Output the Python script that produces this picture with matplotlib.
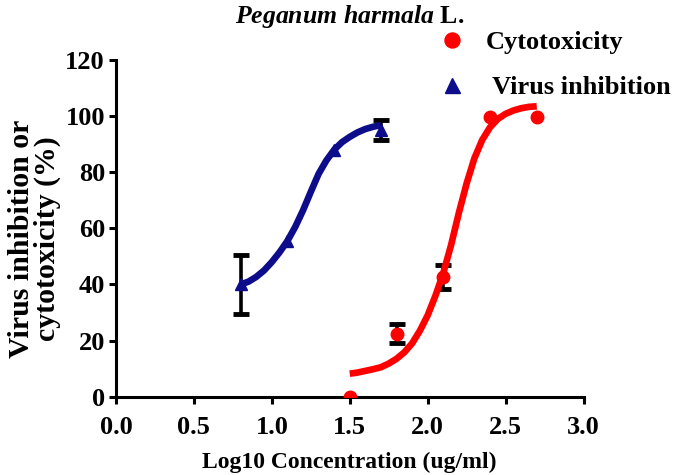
import numpy as np
import matplotlib
matplotlib.use('Agg')
import matplotlib.pyplot as plt

# measured points
virus_x = [0.8, 1.1, 1.4, 1.7]
virus_y = [40.0, 55.5, 88.0, 95.0]
virus_err = [10.4, 0.0, 0.0, 3.6]

cyto_x = [1.5, 1.8, 2.1, 2.4, 2.7]
cyto_y = [0.0, 22.5, 42.7, 99.8, 99.6]
cyto_err = [0.0, 3.3, 4.4, 0.0, 0.0]

# fitted curves
virus_fit_x = [0.8, 0.85, 0.9, 0.95, 1.0, 1.05, 1.1, 1.15, 1.2, 1.25,
               1.3, 1.35, 1.4, 1.45, 1.5, 1.55, 1.6, 1.65, 1.7]
virus_fit_y = [40.0, 41.0, 42.7, 45.0, 48.0, 51.5, 55.5, 60.5, 66.4, 73.0,
               79.4, 84.2, 88.0, 90.7, 92.6, 94.2, 95.4, 96.2, 96.8]

cyto_fit_x = [1.5, 1.55, 1.6, 1.65, 1.7, 1.75, 1.8, 1.85, 1.9, 1.95, 2.0,
              2.05, 2.1, 2.15, 2.2, 2.25, 2.3, 2.35, 2.4, 2.45, 2.5, 2.55,
              2.6, 2.65, 2.7]
cyto_fit_y = [8.2, 8.6, 9.2, 9.8, 10.5, 11.8, 13.5, 15.8, 19.0, 23.5, 29.0,
              36.0, 44.0, 54.0, 65.5, 76.0, 85.0, 91.5, 96.0, 99.0, 100.8, 102.0,
              102.8, 103.3, 103.5]

xticks = [0.0, 0.5, 1.0, 1.5, 2.0, 2.5, 3.0]
yticks = [0, 20, 40, 60, 80, 100, 120]

red = '#ff0000'
blue = '#0d0d8c'

plt.rcParams['font.family'] = 'Liberation Serif'
plt.rcParams['font.weight'] = 'bold'
plt.rcParams['mathtext.fontset'] = 'custom'
plt.rcParams['mathtext.it'] = 'Liberation Serif:italic:bold'
plt.rcParams['mathtext.rm'] = 'Liberation Serif:bold'

fig = plt.figure(figsize=(6.77, 4.75), dpi=100)
ax = fig.add_axes([116 / 677, 78.3 / 475, 467.5 / 677, 336.7 / 475])


def draw_err(xs, ys, errs):
    # only points that actually have an error bar
    xs, ys, errs = np.array(xs), np.array(ys), np.array(errs)
    m = errs > 0
    ax.errorbar(xs[m], ys[m], yerr=errs[m], fmt='none', ecolor='black',
                elinewidth=2.6, capsize=6, capthick=3.5, zorder=2)


draw_err(virus_x, virus_y, virus_err)
draw_err(cyto_x, cyto_y, cyto_err)

ax.plot(virus_fit_x, virus_fit_y, color=blue, lw=4.8, zorder=3,
        solid_capstyle='butt')
ax.plot(cyto_fit_x, cyto_fit_y, color=red, lw=4.8, zorder=3,
        solid_capstyle='butt')

ax.plot(cyto_x, cyto_y, 'o', color=red, ms=9, zorder=4, label='Cytotoxicity')
ax.plot(virus_x, virus_y, '^', color=blue, ms=9, zorder=4,
        label=' Virus inhibition')

ax.set_xlim(0, 3.0)
ax.set_ylim(0, 120)
ax.set_xticks(xticks)
ax.set_yticks(yticks)
ax.set_xticklabels([f'{t:.1f}' for t in xticks])
ax.tick_params(width=2.2, length=5, labelsize=19)
ax.tick_params(axis='x', pad=9)
ax.tick_params(axis='y', pad=3)
for lab in ax.get_xticklabels() + ax.get_yticklabels():
    lab.set_fontweight('bold')

ax.spines['top'].set_visible(False)
ax.spines['right'].set_visible(False)
ax.spines['left'].set_linewidth(2.2)
ax.spines['bottom'].set_linewidth(2.2)

ax.set_xlabel('Log10 Concentration (ug/ml)', fontsize=17, fontweight='bold',
              labelpad=9)
ax.set_ylabel('Virus inhibition or\ncytotoxicity (%)', fontsize=21.5,
              fontweight='bold', linespacing=0.95)
ax.yaxis.set_label_coords(-0.118, 0.47)

fig.text(350 / 677, 1 - 16 / 475, r'$\mathit{Peganum\ harmala}$ L.',
         ha='center', va='center', fontsize=18.5, fontweight='bold')

leg = ax.legend(loc='upper left', bbox_to_anchor=(436 / 677, 1 - 31 / 475),
                bbox_transform=fig.transFigure, frameon=False, fontsize=19,
                handlelength=1.2, handletextpad=0.7, labelspacing=0.8,
                borderaxespad=0, borderpad=0, markerscale=1.2)
for t in leg.get_texts():
    t.set_fontweight('bold')

fig.savefig('out.png', dpi=100)
